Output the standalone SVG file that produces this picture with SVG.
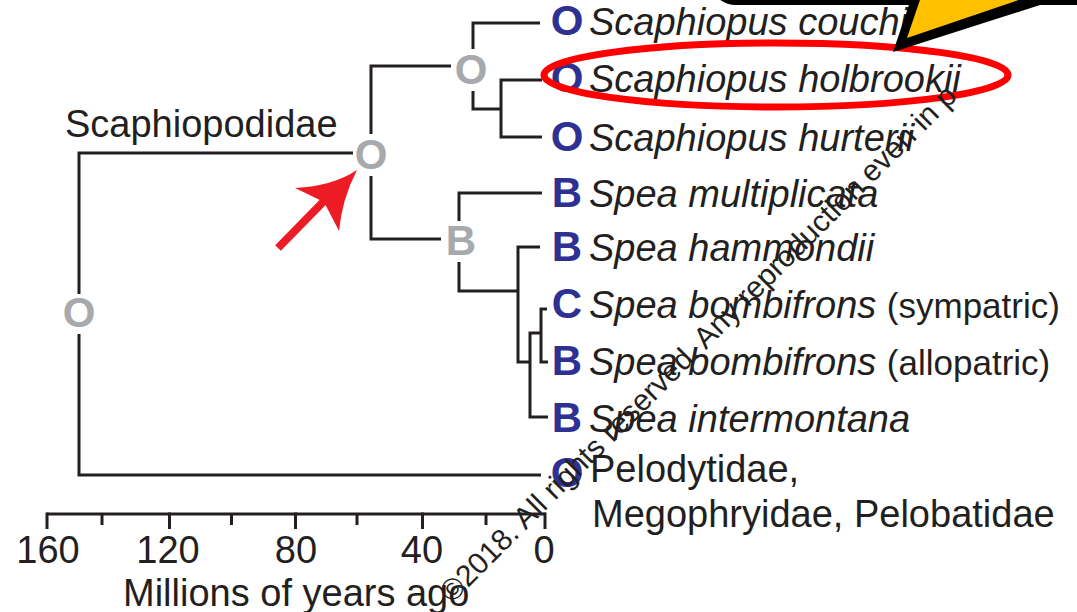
<svg xmlns="http://www.w3.org/2000/svg" width="1077" height="612" viewBox="0 0 1077 612">
<style>
.ln{fill:none;stroke:#231f20;stroke-width:3;stroke-linecap:butt;stroke-linejoin:miter}
.sp{font-family:"Liberation Sans",Arial,sans-serif;font-size:38px;fill:#231f20;font-style:italic}
.nm{font-style:normal;font-size:35px}
.tx{font-family:"Liberation Sans",Arial,sans-serif;font-size:38px;fill:#231f20}
.bl{font-family:"Liberation Sans",Arial,sans-serif;font-size:42px;font-weight:bold;fill:#2e3192;text-anchor:middle}
.gr{font-family:"Liberation Sans",Arial,sans-serif;font-size:42px;font-weight:bold;fill:#a7a9ac;text-anchor:middle}
.ax{font-family:"Liberation Sans",Arial,sans-serif;font-size:38px;fill:#231f20;text-anchor:middle}
</style>
<rect width="1077" height="612" fill="#ffffff"/>

<g id="connectors">
<path class="ln" d="M353,153 H79 V294"/>
<path class="ln" d="M79,334 V475 H541"/>
<path class="ln" d="M451,66 H371 V134"/>
<path class="ln" d="M371,176 V239 H441"/>
<path class="ln" d="M540,23 H473 V49"/>
<path class="ln" d="M473,91 V109 H501"/>
<path class="ln" d="M542,80 H501 V137 H542"/>
<path class="ln" d="M542,193 H459 V221"/>
<path class="ln" d="M459,262 V291 H518"/>
<path class="ln" d="M540,247 H518 V362 H530"/>
<path class="ln" d="M541,333 H530 V417 H548"/>
<path class="ln" d="M547,309 H541 V362 H548"/>
</g>

<g id="node-root"><text class="gr" x="79" y="327">O</text></g>
<g id="node-scaphiopodidae"><text class="gr" x="371" y="169">O</text><text class="tx" x="65" y="137">Scaphiopodidae</text></g>
<g id="node-scaphiopus"><text class="gr" x="471" y="84">O</text></g>
<g id="node-spea"><text class="gr" x="461" y="255">B</text></g>

<g id="taxon-couchii"><text class="bl" x="567" y="35">O</text><text class="sp" x="589" y="35">Scaphiopus couchii</text></g>
<g id="taxon-holbrookii"><text class="bl" x="567" y="92">O</text><text class="sp" x="589" y="92">Scaphiopus holbrookii</text></g>
<g id="taxon-hurterii"><text class="bl" x="567" y="151">O</text><text class="sp" x="589" y="151">Scaphiopus hurterii</text></g>
<g id="taxon-multiplicata"><text class="bl" x="567" y="207">B</text><text class="sp" x="589" y="207">Spea multiplicata</text></g>
<g id="taxon-hammondii"><text class="bl" x="567" y="261">B</text><text class="sp" x="589" y="261">Spea hammondii</text></g>
<g id="taxon-bombifrons-sym"><text class="bl" x="567" y="318">C</text><text class="sp" x="589" y="318">Spea bombifrons <tspan class="nm">(sympatric)</tspan></text></g>
<g id="taxon-bombifrons-allo"><text class="bl" x="567" y="375">B</text><text class="sp" x="589" y="375">Spea bombifrons <tspan class="nm">(allopatric)</tspan></text></g>
<g id="taxon-intermontana"><text class="bl" x="567" y="432">B</text><text class="sp" x="589" y="432">Spea intermontana</text></g>
<g id="taxon-outgroup"><text class="bl" x="567" y="487">O</text><text class="tx" x="590" y="482">Pelodytidae,</text><text class="tx" x="592" y="527">Megophryidae, Pelobatidae</text></g>

<g id="axis">
<path class="ln" d="M47,514 H545.5"/>
<path class="ln" d="M47,512.5 V529 M169.5,512.5 V529 M295.5,512.5 V529 M422.5,512.5 V529 M545,512.5 V529"/>
<path class="ln" d="M102,514 V525 M231.5,514 V525 M357,514 V525 M486,514 V525"/>
<text class="ax" x="48" y="563">160</text>
<text class="ax" x="168" y="563">120</text>
<text class="ax" x="296" y="563">80</text>
<text class="ax" x="422" y="563">40</text>
<text class="ax" x="544" y="563">0</text>
<text class="tx" x="123" y="606">Millions of years ago</text>
</g>

<g id="arrow">
<path d="M278,248 L327,198" stroke="#ed1c24" stroke-width="8" fill="none"/>
<path d="M357,170 Q333,186 295,188 L324,202 L339,231 Q342,199 357,170 Z" fill="#ed1c24"/>
</g>

<g id="highlight">
<ellipse cx="776" cy="75" rx="232" ry="32" fill="none" stroke="#ff0000" stroke-width="7"/>
</g>

<g id="callout">
<rect x="712" y="-70" width="420" height="72" rx="24" fill="#ffc000" stroke="#000000" stroke-width="6"/>
<polygon points="912,-4 1068,-4 893,52" fill="#000000"/>
<polygon points="922,-6 1036,-6 907,38" fill="#ffc000"/>
</g>

<g id="watermark">
<text transform="translate(452,604) rotate(-45)" font-family="Liberation Sans, Arial, sans-serif" font-size="30" fill="#231f20">©2018. All rights reserved. Any reproduction even in p</text>
</g>
</svg>
